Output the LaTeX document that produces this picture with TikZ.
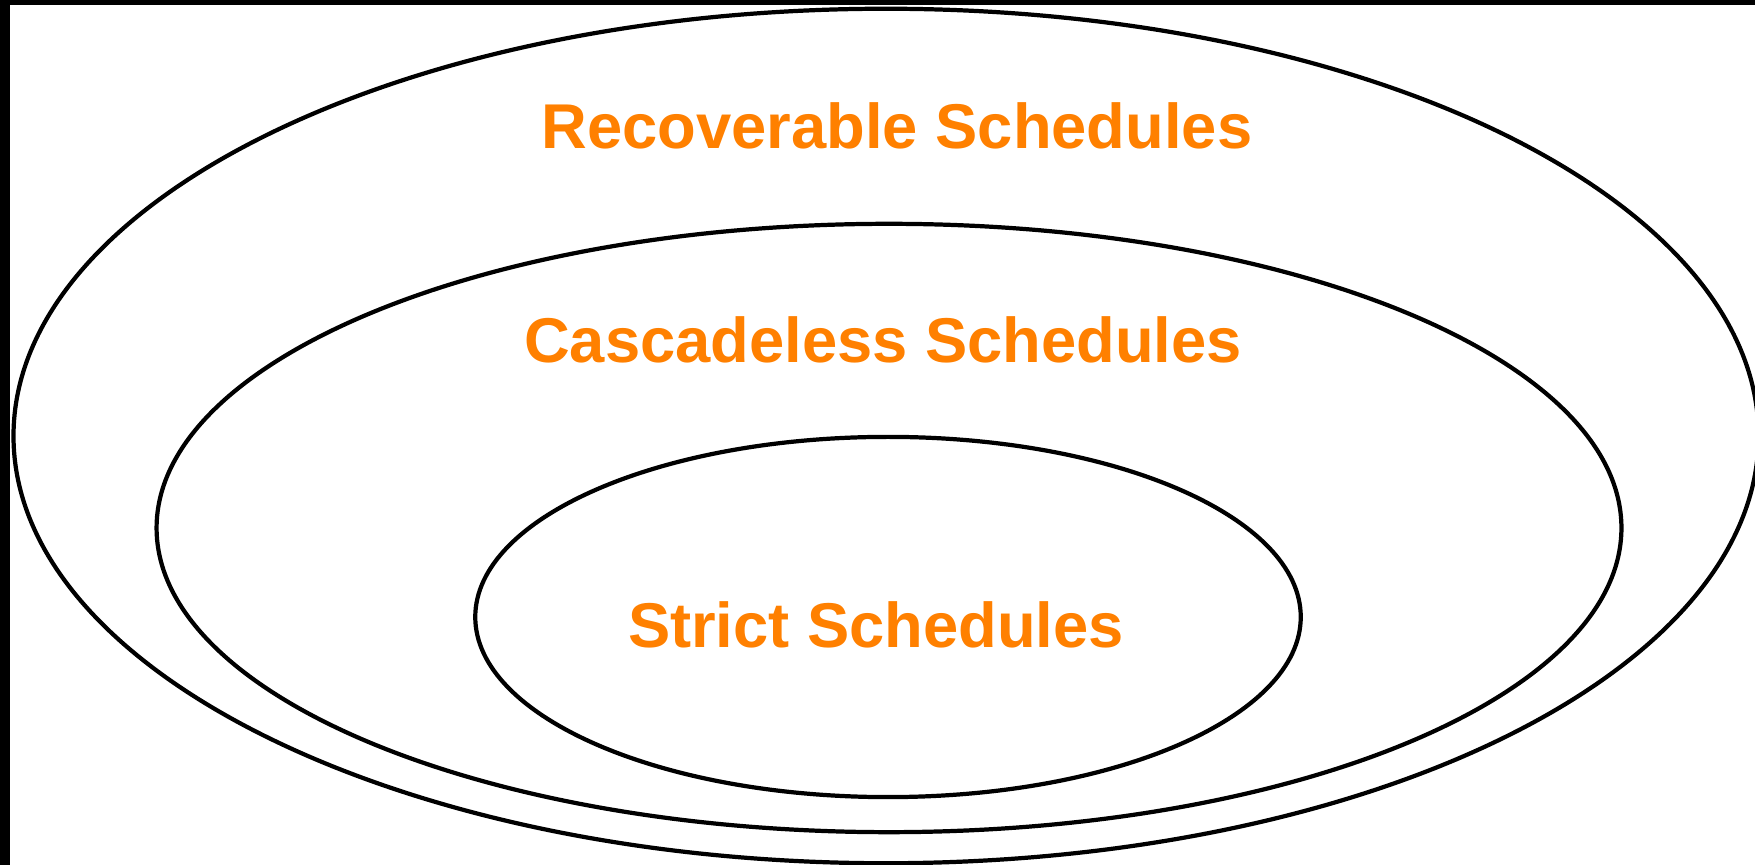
\documentclass[tikz,border=0pt]{standalone}
\usepackage{xcolor}
\usepackage{fontspec}
\setmainfont{Liberation Sans}
\usepackage{tikz}
\usetikzlibrary{shapes.geometric,positioning}
\definecolor{ink}{HTML}{000000}
\definecolor{setorange}{HTML}{FF8000}
\tikzset{
  setring/.style={ellipse,draw=ink,line width=1.2pt,inner sep=0pt},
  setlabel/.style={text=setorange,font=\bfseries\fontsize{18}{20}\selectfont,
    inner sep=0pt,anchor=base},
}

\begin{document}
\begin{tikzpicture}[x=0.01cm, y=-0.01cm]
  \useasboundingbox (0,0) rectangle (1755,865);
  \clip (0,0) rectangle (1755,865);
  \fill[ink] (0,0) rectangle (1755,865);
  \fill[white] (10,5) rectangle (1755,865);

  \node[setring, minimum width=17.44cm, minimum height=8.54cm] (rec) at (886,436) {};
  \node[setring, minimum width=14.64cm, minimum height=6.08cm] (cas) at (889,528) {};
  \node[setring, minimum width=8.25cm, minimum height=3.60cm] (str) at (888,617) {};

  \node[setlabel] (reclabel) at (897,149) {Recoverable Schedules};
  \node[setlabel] (caslabel) at (883,363) {Cascadeless Schedules};
  \node[setlabel] (strlabel) at (876,648) {Strict Schedules};
\end{tikzpicture}
\end{document}
